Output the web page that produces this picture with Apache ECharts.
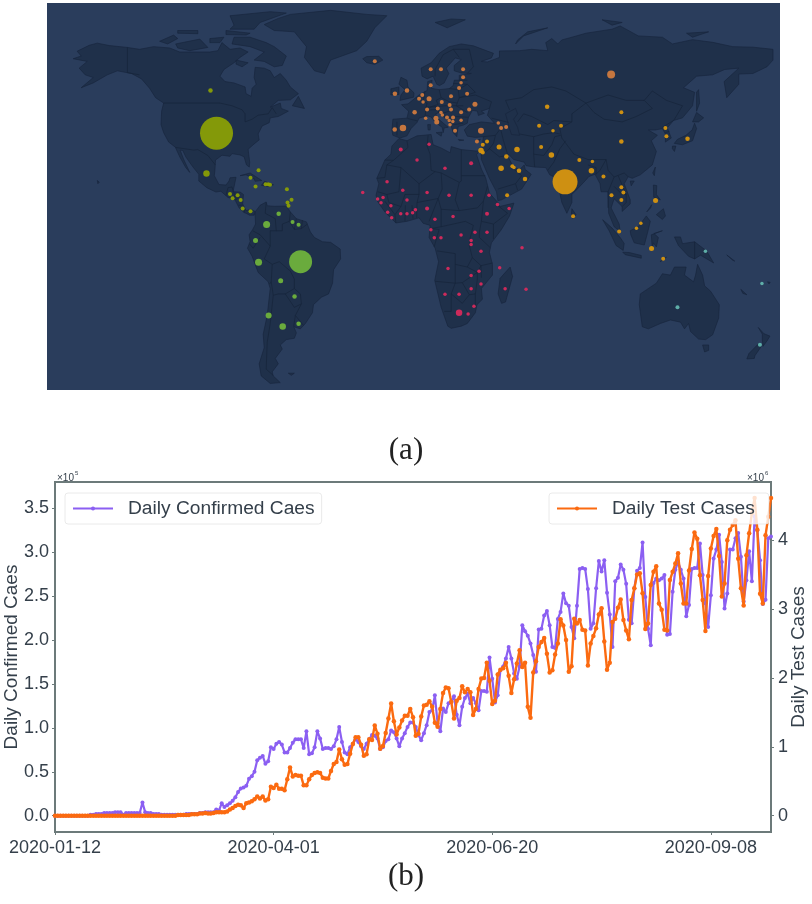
<!DOCTYPE html>
<html><head><meta charset="utf-8">
<style>html,body{margin:0;padding:0;background:#fff}#c{width:812px;height:904px}</style>
<script src="https://cdn.jsdelivr.net/npm/echarts@6/dist/echarts.min.js"></script>
</head><body><div id="c"></div>
<script>
// ---- chart (b) data ----
const startDate = '2020-01-12';
const dayCount = 263;
const confirmedCases = [0,0,0,0,0,0,0,0,0,0,0,0,0,.01,.01,.02,.02,.02,.03,.03,.03,.03,.04,.04,.04,.01,.03,.03,.03,.03,.03,.03,.15,.04,.03,.03,.02,.02,
.02,.01,.01,.01,.01,.01,.01,.01,.01,.01,.02,.02,.02,.02,.02,.03,.03,.04,.04,.04,.04,.07,.06,.14,.10,.12,.14,.17,.21,.27,.31,.32,.34,.42,.45,.50,.63,.66,.68,.59,.62,.78,.76,.82,.84,.81,.72,.72,.77,.83,.87,.87,.87,.77,.96,.70,.71,.78,.96,.88,.76,.77,.77,.76,.79,.87,1.01,.84,.72,.70,.78,.82,.87,.84,.79,.76,.82,.87,.92,.91,.88,.76,.78,.85,.87,.97,.95,.88,
.79,.88,.94,1.01,1.06,1.06,1.01,.92,.86,.94,1.03,1.18,1.20,1.37,1.05,.96,1.22,1.18,1.28,1.30,1.36,1.15,1.03,1.24,1.34,1.39,1.28,1.34,1.28,1.20,1.42,1.42,1.41,1.80,1.56,1.29,1.37,1.66,1.70,1.79,1.92,1.79,1.62,1.56,1.70,2.17,2.10,2.05,1.96,1.83,1.64,2.12,2.13,2.28,2.33,2.17,1.92,1.91,2.24,2.32,2.53,2.42,2.39,2.15,2.02,2.39,2.81,2.82,2.81,2.58,2.13,2.19,2.59,2.90,2.78,2.91,2.54,2.29,1.92,2.67,2.71,2.86,2.80,2.64,2.23,2.19,2.59,2.79,2.82,3.11,2.49,2.13,1.94,2.65,2.70,2.68,2.70,2.74,2.06,2.07,2.55,2.80,2.89,2.80,2.70,2.27,2.40,2.81,2.82,2.82,3.10,2.74,2.42,2.15,2.51,2.93,3.03,3.20,2.89,2.36,2.53,3.03,3.03,3.16,3.22,2.95,2.44,2.68,3.01,2.67,3.41,3.25,2.91,2.41,2.46,3.16,3.18];
const testCases = [0,0,0,0,0,0,0,0,0,0,0,0,0,0,0,0,0,0,0,0,0,0,0,0,0,0,0,0,0,0,0,0,0,0,0,0,0,0,0,0,0,0,0,0,0,
.01,.01,.01,.01,.01,.02,.02,.02,.03,.03,.04,.03,.03,.04,.05,.05,.05,.05,.06,.09,.11,.14,.16,.15,.11,.18,.19,.21,.24,.28,.25,.28,.22,.24,.42,.40,.45,.39,.39,.37,.53,.70,.57,.59,.58,.58,.44,.44,.53,.59,.62,.63,.62,.55,.54,.54,.65,.75,.78,.96,.82,.74,.75,.90,1.04,1.14,1.14,1.03,.87,.89,1.11,1.10,1.31,1.19,.97,1.01,1.20,1.41,1.63,1.37,1.18,
1.28,1.38,1.45,1.45,1.55,1.43,1.16,1.19,1.44,1.60,1.61,1.66,1.58,1.35,1.29,1.55,1.78,1.86,1.85,1.65,1.41,1.67,1.71,1.88,1.79,1.84,1.79,1.46,1.55,1.84,1.99,2.00,2.22,1.96,1.62,1.67,2.05,2.12,2.14,2.22,2.03,1.78,1.98,2.21,2.40,2.16,2.22,1.58,1.42,2.08,2.24,2.45,2.52,2.58,2.35,2.08,2.11,2.34,2.50,2.85,2.76,2.55,2.09,2.17,2.86,2.79,2.84,2.70,2.69,2.18,2.50,2.61,2.72,2.92,3.01,2.53,2.12,2.22,2.81,2.86,3.02,3.14,2.84,2.69,2.56,3.13,3.30,3.50,3.52,3.23,2.71,2.79,3.35,3.54,3.62,3.08,2.99,2.70,2.69,3.42,3.54,3.66,3.81,3.37,3.08,3.08,3.56,3.87,4.11,4.02,3.49,3.13,2.68,3.48,3.88,4.06,4.16,3.77,3.18,3.37,4.00,4.15,4.22,4.29,3.73,3.30,3.05,3.78,4.10,4.39,4.61,4.15,3.22,3.08,4.07,4.34,4.61];
const leftTicks = [0,0.5,1,1.5,2,2.5,3,3.5];
const rightTicks = [0,1,2,3,4];

// ---- chart (a) data: [lon, lat, diameter] ----
const northAmerica = [[-99.7,53.7,4.5],[-96.7,37.8,33],[-101.7,22.8,6.5],[-75.8,24,4],[-79.8,21.2,4],[-77.3,18,4],[-72.3,18.8,4],[-71,18.8,4],[-70.1,18.6,4],[-61.7,16.9,4],[-59.4,13,4],[-61.4,12,4],[-60.9,10.8,4],[-90,15.2,4],[-88.7,13.6,4],[-86.2,14.7,4],[-84.7,12.9,4],[-83.7,9.8,4],[-79.8,8.8,4]];
const southAmerica = [[-71.8,3.8,7],[-65.8,7.8,4.5],[-58.9,4.8,4],[-55.9,3.7,4],[-77.3,-2.1,5],[-75.8,-10.2,7],[-54.9,-10,23],[-64.8,-17.1,5],[-57.9,-23,4.5],[-70.8,-30,6],[-63.8,-34.1,6.5],[-55.9,-33.1,4.5]];
const europe = [[-18,64.6,4],[-8,52.5,4.5],[-2,53.7,4.5],[1.8,45.6,4.5],[-4,39.7,6.5],[-8.1,39.2,4.5],[99.5,59.6,8],[9.8,61.6,4],[14.9,61.6,4],[25.9,61.6,4],[25.9,58.6,4],[24.9,56.6,3.5],[23.9,54.6,4],[9.8,55.6,4],[27.9,52.5,4],[19.9,51.5,4],[9,50.6,5],[5.6,52,4],[4,50.6,4],[6,49.4,3.5],[31.8,48.6,5],[15.3,49.4,4],[19.2,48.3,4],[13.3,47,4],[19.9,46.6,4],[24.9,45.6,4],[28.9,46.6,4],[8,46.6,4],[14.9,45.5,3.5],[15.6,44.6,3.5],[17.9,43.6,4],[20.9,43.6,4],[20.8,42.1,3.5],[24.9,42.6,3.5],[19.4,40.9,3.5],[19,42.5,3.5],[21.9,38.7,4],[12.4,43.4,5],[12.8,42,5],[7.3,43.4,3.5],[34.8,38.7,6],[43.4,41.6,3.5],[44.8,39.7,4],[47.3,40.1,4],[32.8,34.7,4]];
const asia = [[67.7,47.6,4.5],[104.6,45.6,4],[104.6,34.7,4.5],[63.7,40.6,4],[74.6,40.6,4],[70.6,38.7,3.5],[64.7,32.7,4],[52.7,31.7,5.5],[43.8,32.7,5],[37.8,34.7,4],[35.7,33.5,4],[34.8,31.4,5.5],[35.7,30.6,4],[47.4,29.1,4.5],[69.8,29.7,5.5],[83.7,27.8,4],[90.2,27.3,3.5],[89.7,23.8,5.5],[76.6,19.7,25],[95.7,21.7,4],[50.4,25.5,4],[51.2,25,3.5],[44.8,24.8,5.5],[53.7,23.8,4.5],[56.7,20.8,4.5],[47.8,14.7,4],[137.5,35.7,4.5],[126.5,39.7,4],[127,36.7,4],[121.6,12.8,5],[104.6,17.7,4],[105.6,15.7,4],[99.7,14.7,4],[104.6,12.9,4],[80.6,6.9,4],[114.3,4.3,3.5],[112.1,2.4,3.5],[119.6,-5.1,5],[103.5,1.2,4],[125.4,-8.9,4]];
const africa = [[-24,15.7,3.5],[-5.1,31.7,4],[3,27.8,3.5],[-11.9,19.7,3.5],[-4.1,16.6,3.5],[-16.6,13.3,3.5],[-14.9,11.9,3.5],[-13.9,13.9,3.5],[-2,12.9,3.5],[-10,10.8,3.5],[-11.6,8.4,3.5],[-9.6,6.3,3.5],[-5.1,7.8,3.5],[-2,7.8,3.5],[.8,8.2,3.5],[2.2,9.3,3.5],[9,33.7,3.5],[16.9,24.8,3.5],[29.9,26.6,4],[8,15.7,3.5],[18.9,14.7,3.5],[29.9,14.7,3.5],[38.8,14.7,3.5],[43,11.3,3.5],[48.8,9.8,3.5],[37.8,7.8,4],[8,9.8,4],[20.9,6.8,3.5],[11.9,5.8,3.5],[9.9,1.9,3.5],[11.6,-1.1,3.5],[14.9,-1.1,3.5],[24.9,-.1,3.5],[31.8,.9,3.5],[37.8,.9,3.5],[29.9,-2.1,3.5],[29.9,-3.6,3.5],[34.8,-6.1,3.5],[55.2,-4.8,3.5],[44.1,-12.3,3.5],[18.4,-12.5,3.5],[29.9,-15.1,3.5],[33.8,-13.6,3.5],[34.8,-18.3,3.5],[46.8,-20.1,3.5],[57.2,-20.3,3.5],[29.9,-20.1,3.5],[16.9,-22.1,3.5],[23.9,-22.1,3.5],[23.9,-29,6.5],[31.3,-26.6,3.5],[28.4,-29.5,3.5]];
const oceania = [[146.4,-6.1,3.5],[174.5,-18.1,3.5],[132.5,-27,4],[173.5,-40.9,4]];

// ---- simplified geography (lon, lat) ----
const land = {
 NorthAmerica:[[-168,65.5],[-164,66.5],[-166,68.3],[-160,70.5],[-156,71.3],[-150,70.4],[-141,69.7],[-135,69],[-128,70],[-120,69.5],[-115,68],[-108,68],[-100,68],[-96,68.5],[-94,71.5],[-90,69],[-85,69.5],[-81,68],[-85,66],[-88,64],[-93,61.5],[-95,59],[-92.5,57],[-88,56.5],[-82.5,55],[-82,52.5],[-79.5,51.5],[-79,54.5],[-77,56],[-78,58.5],[-77.5,62.3],[-73,62],[-70,61],[-68,58.5],[-65,60],[-62,57.5],[-60,55],[-56,52.5],[-60,50.2],[-66,50],[-70,47.5],[-65,49],[-64.5,47],[-61,46],[-66,44],[-70,43.5],[-70.5,41.7],[-74,40.5],[-76,37.5],[-75.5,35.3],[-78,33.8],[-81,31.8],[-80.2,27],[-80.4,25.2],[-81.8,26],[-83,29],[-85,29.7],[-89,30.2],[-90,29.2],[-94,29.6],[-97.2,27.8],[-97.5,24],[-97.8,22],[-95.5,18.7],[-92,18.5],[-90.5,20],[-90,21.2],[-87,21.4],[-87.8,18.5],[-88.5,16],[-85,15.9],[-83.3,15],[-83.7,11.5],[-82,9],[-79.5,9.5],[-77.4,8.6],[-78,7.3],[-80.3,7.3],[-81.5,7.8],[-83,8.3],[-85.5,10],[-87.5,13],[-91,13.9],[-94.5,16.2],[-97,15.9],[-101.5,17.5],[-105.5,20],[-105.5,22.5],[-108.5,25.3],[-112,29],[-113.5,31.4],[-114.8,31.5],[-113,28],[-110,23.2],[-112,25],[-115,29],[-117.2,32.6],[-120.5,34.5],[-123,38],[-124.3,41],[-124,46],[-123,49],[-127,51],[-130,54.5],[-134,58],[-139,60],[-146,61],[-151,59.5],[-158,56.5],[-164,54.7],[-158,58.5],[-162,59.5],[-165,62],[-161,64.5]],
 Baffin:[[-80,73.5],[-72,71.5],[-68,70],[-62,66.5],[-64,63],[-68,62.5],[-73,64.5],[-78,65],[-73,68],[-80,70],[-89,71],[-88,73.5]],
 Victoria:[[-117,71],[-105,72.8],[-101,69.7],[-110,68.5],[-116,69.5]],
 Ellesmere:[[-90,76.5],[-78,76.5],[-75,79],[-62,82.5],[-70,83],[-90,81.5],[-88,78]],
 Banks:[[-125,72],[-118,74.3],[-116,73],[-121,71]],
 Devon:[[-92,76],[-80,75],[-82,74.3],[-92,74.5]],
 Melville:[[-116,76],[-106,76],[-106,74.8],[-116,75]],
 Somerset:[[-100,73],[-93,73.5],[-95,71.5],[-100,71.5]],
 Southampton:[[-87,65],[-81,64],[-84,62.5],[-87,63.5]],
 Newfoundland:[[-59,48],[-56,51.5],[-53,47]],
 Greenland:[[-73,78.2],[-66,80.5],[-60,82],[-40,83.5],[-22,82],[-12,81.5],[-18,77],[-22,72],[-27,68.5],[-40,65],[-43,60],[-48,61],[-53,66],[-52,70],[-58,75.5],[-68,76]],
 Iceland:[[-24,65.5],[-22,64],[-18,63.4],[-14,65],[-16,66.4],[-22,66.3]],
 Cuba:[[-85,22],[-80,23],[-74.2,20.2],[-77.5,19.9],[-78,20.8],[-82,22.3]],
 Hispaniola:[[-74.4,18.4],[-72.8,19.9],[-68.4,18.6],[-71,18]],
 Hawaii:[[-156,20.2],[-155,19.6],[-155.7,19]],
 SouthAmerica:[[-77.4,8.6],[-75,11],[-72,12.2],[-71.5,10.8],[-68,10.6],[-62,10.7],[-60,8.5],[-57,6],[-52,4.8],[-50,1],[-48,-1],[-44,-2.6],[-40,-2.8],[-35.2,-5.3],[-35,-9],[-38.5,-13],[-39,-18],[-41,-22],[-44.5,-23.2],[-48.5,-26],[-49,-29],[-52.5,-33],[-55,-35],[-58.3,-34.2],[-57,-36.5],[-58,-38.5],[-62,-39],[-65,-41],[-64,-42.5],[-67.5,-46],[-66,-48],[-69,-51],[-68.5,-52.5],[-65,-55],[-70,-55.3],[-74.5,-52.5],[-75.5,-48],[-73,-42],[-73.5,-37],[-71.5,-30],[-70,-20],[-71,-17.5],[-76,-14],[-79,-8],[-81.3,-5],[-80,-2.5],[-80.5,0],[-78.7,2],[-77.3,4],[-77.5,7]],
 Falkland:[[-61,-51.5],[-58,-51.5],[-59.5,-52.3]],
 Africa:[[-6,35.8],[-2,35],[3,36.8],[10,37.3],[11,33.5],[15,32.3],[19.5,30.5],[20,32.8],[25,31.7],[32,31.2],[34.2,31.2],[32.6,29.8],[35,24.5],[37.2,21],[39,15.5],[43.2,12],[44,10.5],[51.2,11.8],[49,7],[45,2],[40,-3],[39,-6.5],[40.5,-11],[40.5,-15],[35,-20],[35.5,-24],[32.8,-26],[32,-29],[28,-33],[25,-34],[20,-34.8],[18.3,-34],[15,-27],[11.8,-17],[13.7,-10],[12,-5],[9,-1],[9.5,3.5],[6,4.3],[4,6.3],[-2,5],[-7.5,4.4],[-13,8.5],[-16.7,12.5],[-17.4,14.7],[-16,19],[-17,21],[-13,27.8],[-10,30],[-9.5,33]],
 Madagascar:[[49.3,-12],[50.5,-15.5],[47,-25],[45,-25.5],[43.3,-22],[44.3,-16.2]],
 Eurasia:[[-9,37],[-9.5,38.8],[-9,43],[-2,43.4],[-1.2,46],[-4.7,48.4],[-1.5,48.7],[1.5,50.5],[4,52],[8,53.7],[8.3,57],[10.5,57.5],[10,54.5],[14,54],[19,54.4],[21,55.5],[21.5,57.5],[24,57.5],[24,59.3],[30,60],[25,60.2],[21.5,61],[21.5,63],[25,65.2],[22,65.8],[17.5,62],[18.8,60],[16.5,56.5],[14.2,55.5],[12.8,56],[11,59],[8,58],[5.5,59],[5,62],[10,64],[14,67.5],[19,70],[25,71],[31,70.3],[41,67.5],[40,65.8],[35,64.5],[38,64.3],[44,66],[44,68.4],[54,68.5],[60,69],[68,68.5],[67,71.5],[70,73],[73,71],[75,72.5],[80,73.5],[87,75],[100,76.5],[104,77.7],[113,74],[125,73.5],[130,71],[140,72.6],[150,71.6],[160,70],[170,69.8],[180,69],[180,65],[177,62.5],[170,60],[163,59.8],[163,56],[157,51],[155.7,57],[163,62],[156,61.5],[150,59.5],[142,59],[135.5,54.7],[141,53],[140,48],[135,43.5],[130.5,42.5],[127.5,39.8],[129.4,36],[126.5,34.5],[126.5,37.5],[125,39.5],[121.5,39],[118,39],[122.5,37],[119.5,35],[122,31],[120,26],[114,22.3],[110,21],[108,21.6],[106,19],[109,13],[109,11.5],[105,8.7],[105,10.5],[101,13.4],[99.5,10],[103.5,4],[104,1.3],[101,3],[98.3,8],[98,16],[94.5,16],[94,19],[91.5,22.5],[88.5,21.7],[86.5,20],[82,16.5],[80,15],[80,12],[77.5,8],[75,12],[73,19],[72.5,21],[69,22.3],[67,25],[61.5,25.2],[57.2,25.7],[56.3,27],[51,28],[48.5,30],[48,29.5],[50,26.5],[51.5,25],[54,24.2],[56.3,26],[56.8,24.3],[59.8,22.5],[55,17],[45,13],[43.2,12.7],[42.5,16],[39,21],[35,28],[34.9,29.5],[35,31],[36,36.5],[32,36.2],[28,36.7],[26.5,39],[29,41],[35,42],[41.5,41.5],[38,44.5],[39,47],[35,46],[36.5,45.2],[33.5,44.4],[33,46],[30.5,46.3],[28.5,43.5],[28,41.5],[26,40.8],[23.5,40.3],[23,38],[22.8,36.5],[21,38],[19.5,41.5],[14,45.5],[12.3,45],[13,43.5],[18.5,40],[16.5,39.8],[16,38],[15.5,40],[12.3,41.7],[10,43.8],[8,44.3],[4,43.4],[3,41.8],[0,39.5],[-2,36.8],[-5.5,36]],
 UK:[[-5.5,50],[1.3,51.2],[1.5,52.8],[-1.5,55],[-2,57.5],[-5,58.6],[-6,56],[-3,54],[-5,52]],
 Ireland:[[-10,52],[-6,52.2],[-6,55],[-10,54.3]],
 Sicily:[[12.5,38],[15.5,38.2],[15,36.7]],
 Sardinia:[[8.3,41],[9.7,41],[9.5,39],[8.5,39]],
 Crete:[[23.5,35.5],[26.3,35.2],[24,35]],
 Cyprus:[[32.3,35],[34.5,35.6],[33.5,34.6]],
 Svalbard:[[12,79],[20,80.3],[27,80],[18,77]],
 NovayaZemlya:[[52,71],[56,74],[68,77],[58,75.5],[53,72.5]],
 SevernayaZemlya:[[95,80],[105,79],[100,78]],
 NewSiberia:[[137,75],[148,75.5],[140,73.5]],
 Sakhalin:[[142,46],[143.5,49],[143,54],[142,53]],
 Honshu:[[130.9,34],[135,33.5],[140,35],[142,39.5],[141,41.5],[139.8,39],[136.7,37],[132.5,35.5]],
 Hokkaido:[[140,42],[143,42],[145.5,43.5],[142,45.5]],
 Kyushu:[[130,33],[131.7,33],[131,31],[130,32]],
 Taiwan:[[120.2,23],[121.5,25.2],[121,22]],
 Hainan:[[109,20],[111,20],[109.5,18.2]],
 SriLanka:[[80,9.7],[82,7.5],[80.5,6],[79.8,8]],
 Luzon:[[120.5,18.5],[122.2,18.3],[122,15],[124,13],[120.7,14]],
 Mindanao:[[122,7.5],[125.5,9.7],[126.5,7],[125,5.7]],
 Palawan:[[117.2,8.5],[119.7,11.2],[119.2,10]],
 Sumatra:[[95.3,5.6],[100,2.5],[104,-1],[106,-3.2],[105.5,-5.8],[102,-4],[98.5,1.5]],
 Java:[[105.3,-6.5],[108.5,-6.6],[114.5,-7.7],[114.5,-8.7],[106.5,-7.4]],
 Borneo:[[109,1.5],[113,3],[117,7],[119,5],[117.7,1],[116,-3.8],[111,-3],[109.3,0]],
 Sulawesi:[[119.5,0],[125,1.5],[120.8,0.5],[123,-1],[122,-4.5],[120.5,-3],[120,-5.5]],
 NewGuinea:[[131,-0.8],[134,-0.8],[135,-3.3],[141,-2.6],[147,-6],[150.5,-10.5],[144,-7.6],[141,-9],[138,-8],[133,-4]],
 Timor:[[124,-10],[127,-8.4],[125,-9]],
 Australia:[[114,-22],[113.5,-26],[115,-34.2],[118,-35],[124,-33],[129,-31.7],[134,-32.5],[136,-35],[138,-33],[139,-36],[143,-38.8],[146.5,-39],[150,-37.2],[153,-31],[153.3,-26],[149,-21],[146,-19],[145,-15],[142.5,-11],[141.5,-15],[140.5,-17.5],[136,-15],[136.8,-12],[131,-12],[129,-15],[125,-14.5],[122,-18],[117,-20.5]],
 Tasmania:[[145,-41],[148,-41],[148,-43],[146,-43.6]],
 NZNorth:[[172.7,-34.5],[175.5,-36.8],[178.5,-37.7],[177,-39.5],[175,-41.5],[174.7,-39],[174.7,-37]],
 NZSouth:[[172.7,-40.6],[174.2,-41.5],[171,-45],[170.7,-46],[167,-46.2],[168,-44.2]],
 NewCaledonia:[[164,-20.3],[167,-22.3],[165,-21.8]],
 Fiji:[[177.3,-17.5],[178.6,-17.7],[178,-18.3]],
 Solomon:[[157,-7.5],[161,-9.8],[160,-9.5]]
};
const caspianSea = [[47,45],[52,47],[53,45],[51,43],[53,40],[54,37],[50,37.3],[49,39.5]];
const borders = [
 [[-123,49],[-95,49],[-89,48],[-84,46.5],[-82.5,45],[-82.5,42],[-79,43],[-76,44.5],[-71,45],[-69,47.3],[-67,45]],
 [[-141,69.7],[-141,60.3],[-135,59.5]],
 [[-117,32.5],[-108,31.5],[-106,31.7],[-101,29.5],[-97.3,26]],
 [[-92,14.6],[-91,17.5],[-89,17.8],[-88.3,16]],[[-88,15.7],[-87.5,13]],[[-85,15],[-87,13]],[[-83.7,11],[-85.7,11]],[[-83,8.3],[-82.5,9.5]],
 [[-72,12],[-72.5,8],[-67.5,6],[-67,1.5],[-70,1.5],[-70,-4.2]],
 [[-78.7,1.5],[-75,0],[-70,-4.2],[-73,-9],[-69,-11]],
 [[-80.3,-3.4],[-78.5,-5],[-75,-1]],
 [[-60,8.5],[-60.5,5],[-64,4],[-64,1.5],[-67,1.5]],
 [[-57,6],[-58,2]],[[-54,5.5],[-54.5,2.3]],[[-60.5,5],[-58,2],[-54.5,2.3],[-51.5,4]],
 [[-69,-11],[-65.5,-10],[-60,-13.5],[-58,-16.5],[-58,-20],[-62.5,-22],[-66,-22],[-68.5,-22.5],[-69.5,-17.5],[-69,-11]],
 [[-70.3,-18.3],[-69.5,-17.5]],
 [[-68.5,-22.5],[-70,-33],[-71.5,-40],[-72,-50],[-68.5,-52.3]],
 [[-62.5,-22],[-58,-27],[-54.5,-25.7],[-55,-22],[-58,-20]],
 [[-54.5,-25.7],[-57.5,-30],[-58.3,-34]],[[-57.5,-30],[-53.5,-33.7]],
 [[-2,35],[-1.5,32.5],[-8.7,27.7],[-13,27.8]],
 [[-8.7,27.7],[-12,26],[-13,21.3],[-17,21]],
 [[-12,26],[-5,25],[-6,16],[-12,15],[-16.5,16]],
 [[-5,25],[1,21],[4,19],[12,23.5]],
 [[8.5,37],[8,33],[9.5,30],[10,24],[12,23.5]],
 [[25,31.7],[25,20]],[[12,23.5],[15,23],[24,19.5],[25,20]],[[25,22],[37,22]],
 [[24,19.5],[22,13],[24,9]],[[15,23],[15.5,17],[13.5,13.5]],
 [[4,19],[4,15],[3,12],[13.5,13.5]],
 [[-12,15],[-11,12],[-5,10.5],[-3,15],[4,15]],
 [[3,12],[2.8,6.3]],[[13.5,13.5],[9,5]],
 [[13.5,13.5],[15,9.5],[24,9]],[[15,9.5],[15,3],[9.8,2.3]],
 [[15,3],[18,3.5],[27,5],[31,3.5],[29.5,-1],[29,-4],[30.5,-8.5],[28,-12],[22,-11],[22,-7],[13,-6]],
 [[24,9],[33,10],[36,12.5],[38,18]],
 [[36,12.5],[35,5],[41,4],[48,8],[43,11]],
 [[35,5],[34,1],[34,-1],[39.3,-4.7]],[[41,4],[41,-1.6]],
 [[30.5,-8.5],[34.8,-11.5],[40.5,-10.5]],
 [[22,-11],[22,-18],[12,-17.3]],
 [[22,-18],[20,-22],[20,-28.5],[16.5,-28.5]],
 [[20,-22],[25.5,-25.5],[29,-22.3]],
 [[22,-18],[25.5,-17.8],[33,-14],[28,-12]],
 [[25.5,-17.8],[29,-22.3],[32,-22],[33,-16.5],[33,-14]],[[32,-22],[32,-26.5]],
 [[33,-14],[34.8,-11.5],[35,-16]],
 [[-13,12.5],[-8,7.5],[-5,10.5]],[[-8,7.5],[-7.5,4.4]],[[-3,5],[-2.8,11]],[[1,6],[0.5,11]],
 [[9.8,2.3],[14,2],[11.5,-4.5]],
 [[49,46.5],[47,50],[55,51],[61,54],[70,55],[77,53.5],[87,49]],
 [[87,49],[98,52],[107,50],[116,50],[120,47],[112,44],[105,42],[96,43],[91,45.5],[87,49]],
 [[116,50],[120,53.5],[127,50],[135,48],[131,43],[130.5,42.5]],
 [[87,49],[80,45],[80,42],[74,39.5],[75,36],[79,32],[81,30],[88,28],[97,28],[98,24],[101,21.5],[106,23],[108,21.6]],
 [[53,42],[56,45],[60,44],[68,41],[71,42.5],[80,42]],
 [[54,37.5],[61,36.5],[66,37.5],[71,38],[74,37.5]],
 [[44.5,39.5],[46,35],[48,30]],[[44.5,39.5],[42,37],[36,36.5]],[[40,43.4],[48.5,41.8]],
 [[48,29.5],[44,29],[39,32],[35,29.5]],[[42,37],[41,34],[39,32]],
 [[43.2,17],[52,19],[55,22],[51,24.5]],[[52,19],[53,16.6]],
 [[61,36.5],[61,30],[61.5,25.2]],[[61,30],[66,29.5],[70,33.5],[71.5,36.5],[74.5,37]],
 [[68,24],[71,27],[74,32],[77,35]],[[88,26],[92,25],[92,22.5],[94,24],[97,28]],
 [[98,10],[98,16],[101,21.5]],[[101,18],[105,15],[107,15]],[[105,10.5],[107,12],[107,15],[103,22]],
 [[125,40],[130.5,42.5]],[[126.5,38],[128.5,38.5]],
 [[-1.8,43.3],[3,42.4]],[[-7,37],[-7,42]],
 [[2.5,51],[6,49.5],[8,49],[7.5,47.5],[7,44]],
 [[14,54],[15,51],[12.5,50],[13.5,48.5],[9.5,47.5],[7.5,47.5]],[[7,53.5],[6,49.5]],
 [[7,46],[10,46.5],[13.7,46.5],[13.7,45.5]],[[9.5,47.5],[17,48]],
 [[15,51],[19,49.5],[23,49],[24,51],[23.5,54],[19,54.4]],
 [[23.5,54],[28,56],[32,53],[24,51]],[[23,49],[22.5,48],[28,45.5]],[[24,51],[32,52],[40,49.5],[39,47]],
 [[21,56.3],[28,56]],[[24,57.5],[28,57.5]],
 [[28,60],[31,62.5],[29,69],[21,69]],[[12,59],[12,61.5],[16,67],[21,69]],[[21,69],[24,66]],
 [[17,48],[22.5,48],[26,48]],[[22,44],[28.5,43.7]],[[19,46],[15,45],[19.5,42]],[[21,41],[26,41.5]],
 [[141,-2.6],[141,-9]]
];
// ---- end of data ----

const close = r => r.concat([r[0]]);
const features = Object.keys(land).map(name => ({
  type:'Feature', properties:{name},
  geometry:{type:'Polygon', coordinates: name==='Eurasia' ? [close(land[name]), close(caspianSea)] : [close(land[name])]}
}));
echarts.registerMap('simpleWorld',{type:'FeatureCollection',features});

const dates=[];
{ const d0=new Date(startDate+'T00:00:00Z');
  for(let i=0;i<dayCount;i++){dates.push(new Date(d0.getTime()+i*864e5).toISOString().slice(0,10));} }

const FONT='"Liberation Sans"', TXT='#343f4a', AXIS='#6c7a7a', SERIF='"Liberation Serif"';
const dots=(name,data,color)=>({name,type:'scatter',coordinateSystem:'geo',geoIndex:0,data,silent:true,z:5,
  symbolSize:v=>v[2],itemStyle:{color,opacity:.95},legendHoverLink:false});

const chart=echarts.init(document.getElementById('c'),null,{renderer:'canvas'});
chart.setOption({
 animation:false,backgroundColor:'#fff',
 geo:{map:'simpleWorld',roam:false,silent:true,left:49,top:9,width:724,height:379,
  boundingCoords:[[-180,84],[180,-57]],aspectScale:.75,
  itemStyle:{areaColor:'#1f304a',borderColor:'#16243a',borderWidth:.6},label:{show:false},z:1},
 grid:{left:55,top:482,width:716,height:350,outerBoundsMode:'none',containLabel:false,show:true,borderColor:AXIS,borderWidth:2,backgroundColor:'transparent'},
 xAxis:{type:'category',data:dates,boundaryGap:false,
  axisLine:{onZero:false,lineStyle:{color:AXIS,width:2}},
  axisTick:{interval:79,length:3,lineStyle:{color:AXIS,width:1}},
  axisLabel:{interval:79,color:TXT,fontFamily:FONT,fontSize:18,margin:7,hideOverlap:false},
  splitLine:{show:false}},
 yAxis:[
  {type:'value',min:-0.186,max:3.80,name:'Daily Confirmed Caes',nameLocation:'middle',nameGap:34,nameRotate:90,nameMoveOverlap:false,
   nameTextStyle:{color:TXT,fontFamily:FONT,fontSize:19},
   axisLine:{show:true,lineStyle:{color:AXIS,width:2}},
   axisTick:{show:true,length:3,customValues:leftTicks,lineStyle:{color:AXIS}},
   axisLabel:{color:TXT,fontFamily:FONT,fontSize:18,margin:6,customValues:leftTicks,formatter:v=>v.toFixed(1)},
   splitLine:{show:false}},
  {type:'value',position:'right',min:-0.237,max:4.844,name:'Daily Test Cases',nameLocation:'middle',nameGap:18,nameRotate:90,nameMoveOverlap:false,
   nameTextStyle:{color:TXT,fontFamily:FONT,fontSize:19},
   axisLine:{show:true,lineStyle:{color:AXIS,width:2}},
   axisTick:{show:true,length:3,customValues:rightTicks,lineStyle:{color:AXIS}},
   axisLabel:{color:TXT,fontFamily:FONT,fontSize:18,margin:7,customValues:rightTicks,formatter:v=>String(v)},
   splitLine:{show:false}}
 ],
 legend:[
  {show:true,data:['Daily Confirmed Caes'],left:65,top:493,orient:'horizontal',padding:[6,7,6,7],itemWidth:40,itemHeight:5,
   backgroundColor:'rgba(255,255,255,.8)',borderColor:'rgba(225,225,225,.7)',borderWidth:1,borderRadius:3,
   textStyle:{color:TXT,fontFamily:FONT,fontSize:19.2,padding:[0,0,0,10]},z:10},
  {show:true,data:['Daily Test Cases'],left:549,top:493,orient:'horizontal',padding:[6,14,6,7],itemWidth:40,itemHeight:5,
   backgroundColor:'rgba(255,255,255,.8)',borderColor:'rgba(225,225,225,.7)',borderWidth:1,borderRadius:3,
   textStyle:{color:TXT,fontFamily:FONT,fontSize:19.2,padding:[0,0,0,10]},z:10}
 ],
 graphic:[
  {type:'rect',shape:{x:47,y:3,width:733,height:387},style:{fill:'#2a3d5c'},z:-10,silent:true},
  {type:'text',x:406,y:435,style:{text:'(a)',font:'31px '+SERIF,fill:'#222',textAlign:'center'},silent:true},
  {type:'text',x:406,y:861,style:{text:'(b)',font:'31px '+SERIF,fill:'#222',textAlign:'center'},silent:true},
  {type:'text',x:57,y:473,style:{text:'×10',font:'10px '+FONT,fill:TXT},silent:true},
  {type:'text',x:75,y:470,style:{text:'5',font:'6px '+FONT,fill:TXT},silent:true},
  {type:'text',x:747,y:473,style:{text:'×10',font:'10px '+FONT,fill:TXT},silent:true},
  {type:'text',x:765,y:470,style:{text:'6',font:'6px '+FONT,fill:TXT},silent:true}
 ],
 series:[
  {name:'Borders',type:'lines',coordinateSystem:'geo',geoIndex:0,polyline:true,silent:true,z:2,
   data:borders.map(coords=>({coords})),lineStyle:{color:'#16243a',width:.7,opacity:1}},
  dots('North America',northAmerica,'#8a9f05'),
  dots('South America',southAmerica,'#6fb23c'),
  dots('Europe',europe,'#cf7a3e'),
  dots('Asia',asia,'#d8960f'),
  dots('Africa',africa,'#d72a5c'),
  dots('Oceania',oceania,'#62b5ad'),
  {name:'Daily Confirmed Caes',type:'line',xAxisIndex:0,yAxisIndex:0,data:confirmedCases,
   symbol:'circle',symbolSize:4,showSymbol:true,showAllSymbol:true,
   lineStyle:{color:'#8b5ff2',width:2.2},itemStyle:{color:'#8b5ff2'},z:3,silent:true},
  {name:'Daily Test Cases',type:'line',xAxisIndex:0,yAxisIndex:1,data:testCases,
   symbol:'circle',symbolSize:4.5,showSymbol:true,showAllSymbol:true,
   lineStyle:{color:'#fb6a10',width:2.4},itemStyle:{color:'#fb6a10'},z:4,silent:true}
 ]
});
</script></body></html>
